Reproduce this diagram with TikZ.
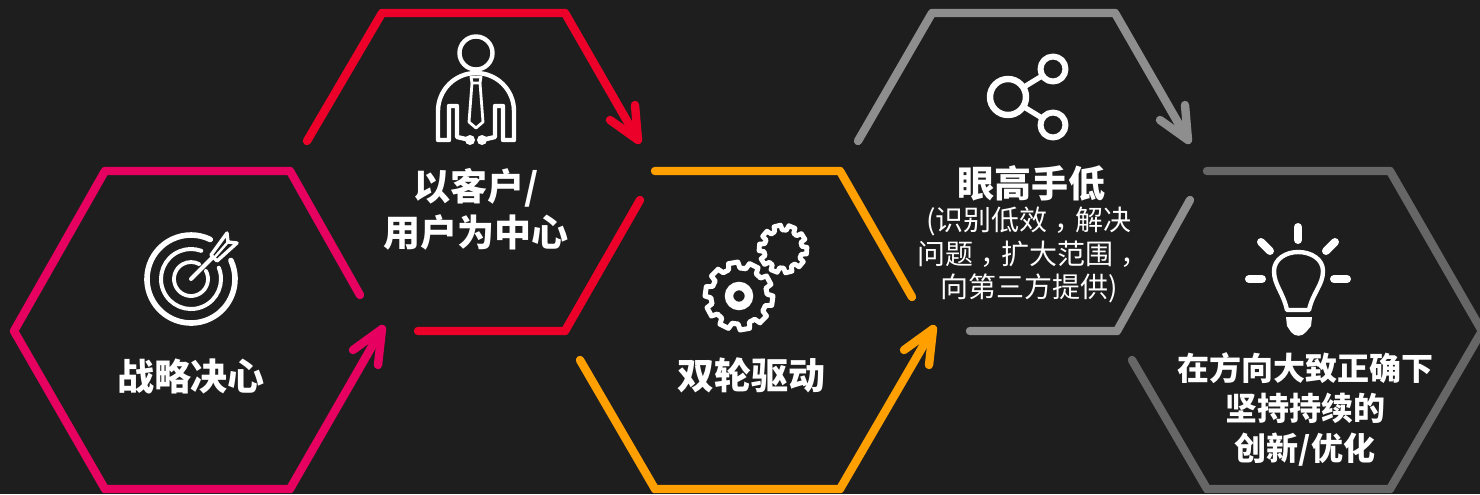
\documentclass[tikz,border=0pt]{standalone}
\usepackage{fontspec}
\setmainfont{Noto Sans CJK SC}
\usetikzlibrary{calc}
\definecolor{bgc}{HTML}{1E1E1E}
\definecolor{cpink}{HTML}{E6005F}
\definecolor{cred}{HTML}{EC0029}
\definecolor{corange}{HTML}{FFA000}
\definecolor{cgray}{HTML}{8E8E8E}
\definecolor{cdark}{HTML}{666666}
\newcommand{\midcomma}{\kern3.6pt\char"FF0C\kern-3.6pt\relax}
\tikzset{
  hexline/.style={line width=4.2pt,line cap=round,line join=round},
  iconline/.style={draw=white,line cap=round,line join=round},
  title/.style={text=white,font=\fontsize{18.5}{23}\selectfont\bfseries,align=center,inner sep=0pt},
  titlesm/.style={text=white,font=\fontsize{16}{20}\selectfont\bfseries,align=center,inner sep=0pt},
  sub/.style={text=white,font=\fontsize{14}{16.6}\selectfont,align=center,inner sep=0pt}
}
\begin{document}
\begin{tikzpicture}[x=0.5pt,y=-0.5pt]
\useasboundingbox (0,0) rectangle (1480,494);
\fill[bgc] (0,0) rectangle (1480,494);
% hexagon 1
\draw[hexline,cpink] (360,295) -- (290,171) -- (105,171) -- (14,331) -- (105,489) -- (290,489) -- (382,329);
\draw[hexline,cpink] (353,350) -- (382,329) -- (378,365);
% hexagon 2
\draw[hexline,cred] (307,141) -- (382,13) -- (565,13) -- (638,140);
\draw[hexline,cred] (610,120) -- (638,140) -- (635,105);
\draw[hexline,cred] (640,200) -- (565,331) -- (418,331);
% hexagon 3
\draw[hexline,corange] (655,171) -- (840,171) -- (912,297);
\draw[hexline,corange] (580,360) -- (655,489) -- (840,489) -- (933,329);
\draw[hexline,corange] (904,350) -- (933,329) -- (929,365);
% hexagon 4
\draw[hexline,cgray] (858,141) -- (932,13) -- (1115,13) -- (1188,140);
\draw[hexline,cgray] (1160,120) -- (1188,140) -- (1185,105);
\draw[hexline,cgray] (1190,200) -- (1117,331) -- (970,331);
% hexagon 5
\draw[hexline,cdark] (1207,171) -- (1390,171) -- (1482,331) -- (1390,489) -- (1207,489) -- (1132,360);
% texts
\node[title] (t1) at (191,376) {战略决心};
\node[title] (t2) at (476,209) {以客户/\\用户为中心};
\node[title] (t3) at (751,375) {双轮驱动};
\node[title] (t4) at (1031,183) {眼高手低};
\node[sub] (t4b) at (1029,255) {(识别低效\midcomma 解决\\问题\midcomma 扩大范围\midcomma\\向第三方提供)};
\node[titlesm] (t5) at (1305,409) {在方向大致正确下\\坚持持续的\\创新/优化};
% target icon
\begin{scope}[shift={(191,279)}]
\draw[iconline,line width=2.8pt] (-25:44) arc[start angle=-25,end angle=296,radius=44];
\draw[iconline,line width=2pt] (-22:30) arc[start angle=-22,end angle=290,radius=30];
\draw[iconline,line width=1.9pt] (-30:17) arc[start angle=-30,end angle=300,radius=17];
\draw[iconline,line width=2pt] (0,0) -- (21,-21);
\draw[iconline,line width=1.7pt] (20,-24) -- (36,-46) -- (37,-37) -- (46,-36) -- (26,-18) -- cycle;
\draw[iconline,line width=1.2pt] (23,-21) -- (37,-37);
\end{scope}
% person icon
\draw[iconline,line width=2.2pt] (476,53) circle[radius=16.5];
\draw[iconline,line width=2.2pt] (470,140) -- (457,137) -- (457,106) -- (449,106) -- (449,140) -- (438,140) -- (438,111) arc[start angle=180,end angle=360,radius=38] -- (514,140) -- (503,140) -- (503,106) -- (495,106) -- (495,137) -- (482,140);
\fill[white] (470,140) circle[radius=5];
\fill[white] (482,140) circle[radius=5];
\draw[iconline,line width=1.4pt] (471,77) -- (481,77) -- (480,83) -- (472,83) -- cycle;
\draw[iconline,line width=1.4pt] (472,83) -- (469,122) -- (476,128) -- (483,122) -- (480,83);
% gears
\begin{scope}[shift={(739,296)},rotate=8]
\draw[iconline,line width=2.5pt] (0:28) \foreach \a in {0,36,...,324} { -- ({\a+4}:28) -- ({\a+8}:34) -- ({\a+24}:34) -- ({\a+28}:28) -- ({\a+36}:28)} -- cycle;
\end{scope}
\draw[draw=white,line width=4.2pt] (739,296) circle[radius=10];
\begin{scope}[shift={(783,249)},rotate=12]
\draw[iconline,line width=2.4pt] (0:19) \foreach \a in {0,36,...,324} { -- ({\a+4}:19) -- ({\a+8}:24) -- ({\a+24}:24) -- ({\a+28}:19) -- ({\a+36}:19)} -- cycle;
\end{scope}
% share icon
\draw[iconline,line width=3.2pt] (1008,97) circle[radius=18];
\draw[iconline,line width=3pt] (1053,69) circle[radius=12.5];
\draw[iconline,line width=3pt] (1053,125) circle[radius=12.5];
\draw[iconline,line width=2.6pt] (1024,87) -- (1042,76);
\draw[iconline,line width=2.6pt] (1024,107) -- (1042,118);
% bulb icon
\draw[iconline,line width=4pt] (1298,227) -- (1298,240);
\draw[iconline,line width=4pt] (1261,242) -- (1270,251);
\draw[iconline,line width=4pt] (1335,242) -- (1326,251);
\draw[iconline,line width=4pt] (1249,279) -- (1262,279);
\draw[iconline,line width=4pt] (1334,279) -- (1347,279);
\draw[iconline,line width=2.2pt] (1287,310) .. controls (1283,292) and (1274,285) .. (1274,271) .. controls (1274,259) and (1286,252) .. (1298,252) .. controls (1311,252) and (1323,259) .. (1323,271) .. controls (1323,285) and (1313,292) .. (1309,310) -- cycle;
\fill[white] (1286,317) -- (1312,317) -- (1311,326) -- (1306,332) .. controls (1302,337) and (1295,337) .. (1291,332) -- (1287,326) -- cycle;
\end{tikzpicture}
\end{document}
